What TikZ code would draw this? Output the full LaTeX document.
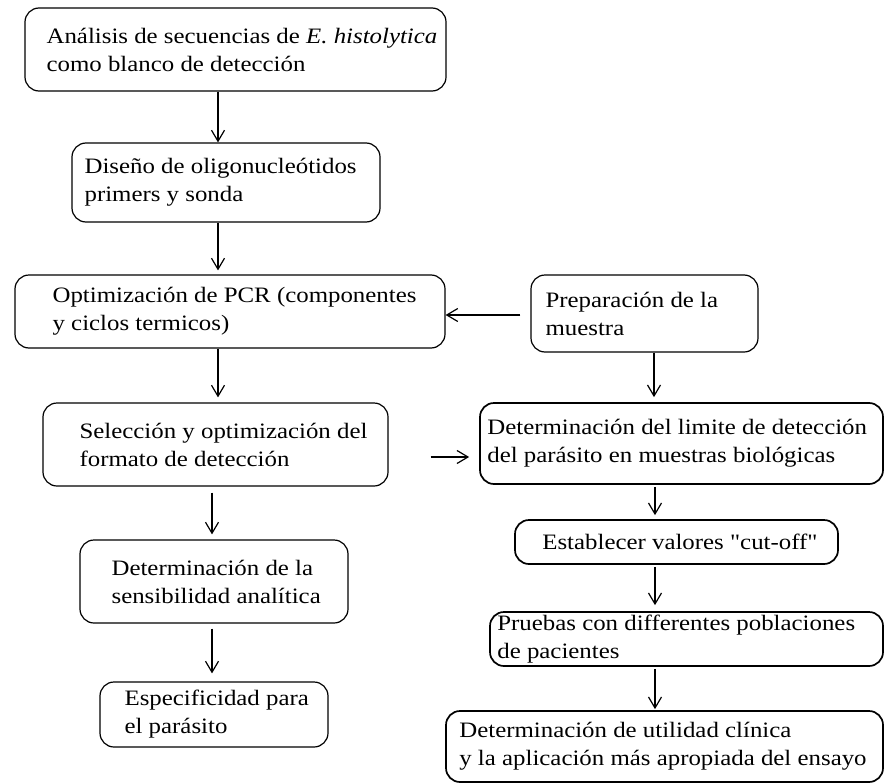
\documentclass[tikz,border=0pt]{standalone}
\usepackage{fontspec}
\setmainfont{Liberation Serif}[FakeStretch=1.13]
\newfontfamily\plainq{Liberation Serif}[FakeStretch=1.13,Ligatures=TeXOff]
\usetikzlibrary{arrows.meta,calc}
\begin{document}
\begin{tikzpicture}[x=1pt,y=-1pt,
  box/.style={draw,line width=1.2pt,rounded corners=14pt,minimum width=#1,inner sep=0pt},
  thickbox/.style={line width=1.7pt},
  txt/.style={anchor=west,align=left,inner sep=0pt,font=\fontsize{22}{28}\selectfont},
  arr/.style={-{Straight Barb[length=11pt,width=13pt,line width=1.2pt]},line width=1.2pt}]
\useasboundingbox (0,0) rectangle (886,784);
% left column
\node[box=421pt,minimum height=83pt] (b1) at (235.5,49.5) {};
\node[box=308pt,minimum height=79pt] (b2) at (226,182.5) {};
\node[box=430pt,minimum height=73pt] (b3) at (230,311.5) {};
\node[box=345pt,minimum height=83pt] (b4) at (215.5,444.5) {};
\node[box=268pt,minimum height=83pt] (b5) at (214,581.5) {};
\node[box=228pt,minimum height=65pt] (b6) at (214,714.5) {};
% right column
\node[box=227pt,minimum height=77pt] (b7) at (644.5,313.5) {};
\node[box=403pt,minimum height=81pt,thickbox] (b8) at (681.5,443.5) {};
\node[box=323pt,minimum height=44pt,thickbox] (b9) at (676.5,542) {};
\node[box=393pt,minimum height=54pt,thickbox] (b10) at (686.5,639) {};
\node[box=437pt,minimum height=71pt,thickbox] (b11) at (664.5,746.5) {};
% texts
\node[txt] (t1) at ([xshift=22pt]b1.west) {Análisis de secuencias de \textit{E. histolytica}\\como blanco de detección};
\node[txt] (t2) at ([xshift=13pt]b2.west) {Diseño de oligonucleótidos\\primers y sonda};
\node[txt] (t3) at ([xshift=38pt]b3.west) {Optimización de PCR (componentes\\y ciclos termicos)};
\node[txt] (t4) at ([xshift=37pt]b4.west) {Selección y optimización del\\formato de detección};
\node[txt] (t5) at ([xshift=32pt]b5.west) {Determinación de la\\sensibilidad analítica};
\node[txt] (t6) at ([xshift=25pt]b6.west) {Especificidad para\\el parásito};
\node[txt] (t7) at ([xshift=15pt]b7.west) {Preparación de la\\muestra};
\node[txt] (t8) at ([xshift=8pt]b8.west) {Determinación del limite de detección\\del parásito en muestras biológicas};
\node[txt] (t9) at ([xshift=28pt]b9.west) {Establecer valores {\plainq "cut-off"}};
\node[txt] (t10) at ([xshift=8pt]b10.west) {Pruebas con differentes poblaciones\\de pacientes};
\node[txt] (t11) at ([xshift=14pt]b11.west) {Determinación de utilidad clínica\\y la aplicación más apropiada del ensayo};
% arrows
\draw[arr] (b1.south -| 218,0) -- (b2.north -| 218,0);
\draw[arr,shorten >=4pt] (b2.south -| 218,0) -- (b3.north -| 218,0);
\draw[arr,shorten >=5pt] (b3.south -| 218,0) -- (b4.north -| 218,0);
\draw[arr,shorten <=6pt,shorten >=5pt] (b4.south -| 212,0) -- (b5.north -| 212,0);
\draw[arr,shorten <=5pt,shorten >=8pt] (b5.south -| 212,0) -- (b6.north -| 212,0);
\draw[arr,shorten <=10pt] (b7.west |- 0,315) -- (b3.east |- 0,315);
\draw[arr,shorten <=42pt,shorten >=10pt] (b4.east |- 0,457) -- (b8.west |- 0,457);
\draw[arr,shorten >=5pt] (b7.south -| 654,0) -- (b8.north -| 654,0);
\draw[arr,shorten <=2pt,shorten >=4pt] (b8.south -| 655,0) -- (b9.north -| 655,0);
\draw[arr,shorten <=2pt,shorten >=6pt] (b9.south -| 655,0) -- (b10.north -| 655,0);
\draw[arr,shorten <=2pt,shorten >=1pt] (b10.south -| 655,0) -- (b11.north -| 655,0);
\end{tikzpicture}
\end{document}
